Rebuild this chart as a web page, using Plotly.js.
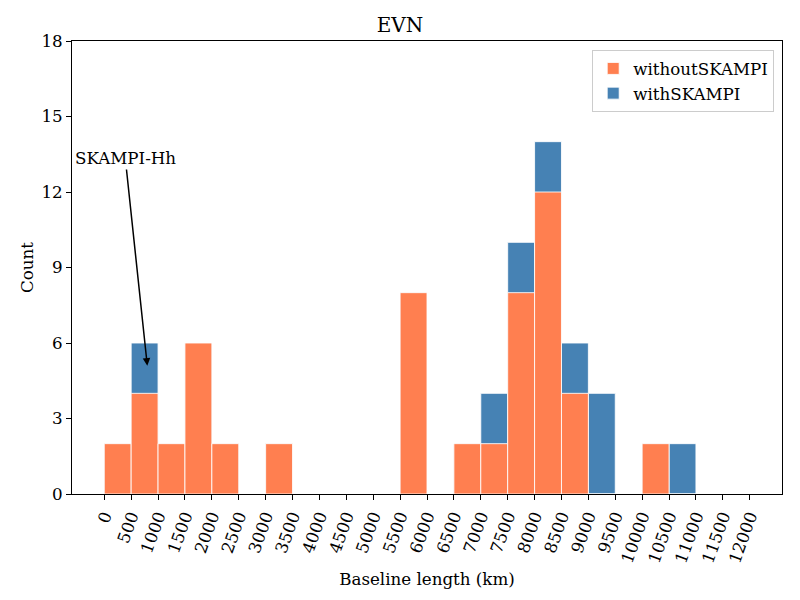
<!DOCTYPE html>
<html>
<head>
<meta charset="utf-8">
<script src="https://cdn.plot.ly/plotly-3.0.1.min.js"></script>
<style>body{margin:0;padding:0;background:#fff}</style>
</head>
<body>
<div id="chart" style="width:800px;height:600px"></div>
<script>
// Bin left edges (km), bin width 500
const binStarts = [0,500,1000,1500,2000,2500,3000,3500,4000,4500,5000,5500,6000,6500,7000,7500,8000,8500,9000,9500,10000,10500,11000,11500];
const withoutSKAMPI = [2,4,2,6,2,0,2,0,0,0,0,8,0,2,2,8,12,4,0,0,2,0,0,0];
const withSKAMPI    = [2,6,2,6,2,0,2,0,0,0,0,8,0,2,4,10,14,6,4,0,2,2,0,0];
const tickVals = [0,500,1000,1500,2000,2500,3000,3500,4000,4500,5000,5500,6000,6500,7000,7500,8000,8500,9000,9500,10000,10500,11000,11500,12000];
const binWidth = 500;

const centers = binStarts.map(s => s + binWidth/2);
const font = "DejaVu Serif, serif";
const fs = 16.7;

const traces = [
  {type:'bar', name:'withSKAMPI', x:centers, y:withSKAMPI, width:binWidth,
   marker:{color:'#4682B4', line:{color:'rgba(255,255,255,0.85)', width:1}}},
  {type:'bar', name:'withoutSKAMPI', x:centers, y:withoutSKAMPI, width:binWidth,
   marker:{color:'#FF7F50', line:{color:'rgba(255,255,255,0.85)', width:1}}}
];

const layout = {
  width:800, height:600,
  margin:{l:72, r:18, t:41, b:106},
  paper_bgcolor:'#fff', plot_bgcolor:'#fff',
  font:{family:font, size:fs, color:'#000'},
  barmode:'overlay', bargap:0,
  showlegend:true,
  title:{text:'EVN', font:{family:font, size:20}, x:0.5, xanchor:'center', y:0.958, yanchor:'middle'},
  xaxis:{
    range:[-600,12600], tickmode:'array', tickvals:tickVals, ticktext:tickVals.map(String),
    tickangle:-70, ticks:'outside', ticklen:5, tickwidth:1, tickcolor:'#000',
    showline:true, linecolor:'#000', linewidth:1, mirror:true, showgrid:false, zeroline:false,
    tickfont:{family:font, size:fs},
    title:{text:'Baseline length (km)', font:{family:font, size:fs}, standoff:8}
  },
  yaxis:{
    range:[0,18], tickmode:'array', tickvals:[0,3,6,9,12,15,18],
    ticks:'outside', ticklen:5, tickwidth:1, tickcolor:'#000',
    showline:true, linecolor:'#000', linewidth:1, mirror:true, showgrid:false, zeroline:false,
    tickfont:{family:font, size:fs},
    title:{text:'Count', font:{family:font, size:fs}, standoff:3}
  },
  legend:{x:0.989, y:0.98, xanchor:'right', yanchor:'top', traceorder:'reversed',
    bgcolor:'rgba(255,255,255,0.8)', bordercolor:'#cccccc', borderwidth:1,
    font:{family:font, size:fs}},
  annotations:[{
    x:800, y:5.1, xref:'x', yref:'y',
    ax:390, ay:13.35, axref:'x', ayref:'y',
    text:'SKAMPI-Hh', showarrow:true, arrowhead:2, arrowsize:1, arrowwidth:1.5, arrowcolor:'#000',
    font:{family:font, size:fs, color:'#000'}
  }]
};

Plotly.newPlot('chart', traces, layout, {displayModeBar:false, staticPlot:true});
</script>
</body>
</html>
